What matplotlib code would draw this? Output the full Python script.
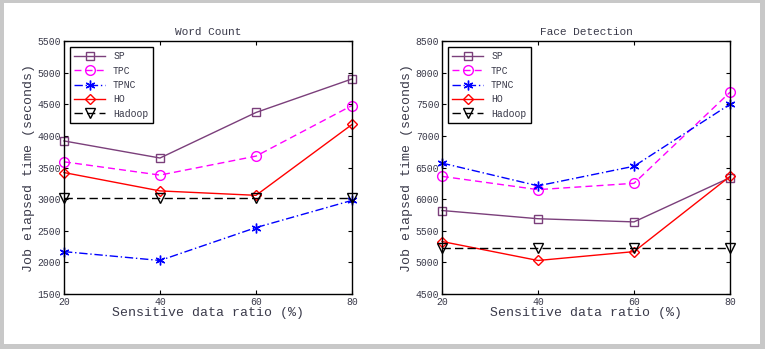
import matplotlib
matplotlib.use("Agg")
import matplotlib.pyplot as plt
from matplotlib.patches import Rectangle

plt.rcParams['font.family'] = ['Liberation Mono', 'DejaVu Sans Mono']

ratio = [20, 40, 60, 80]

wc_sp = [3920, 3650, 4370, 4900]
wc_tpc = [3590, 3380, 3680, 4480]
wc_tpnc = [2170, 2030, 2550, 2980]
wc_ho = [3420, 3130, 3060, 4180]
wc_hadoop = [3020, 3020, 3020, 3020]

fd_sp = [5820, 5690, 5640, 6340]
fd_tpc = [6360, 6150, 6250, 7690]
fd_tpnc = [6570, 6210, 6520, 7500]
fd_ho = [5330, 5030, 5170, 6360]
fd_hadoop = [5220, 5220, 5220, 5220]

labels = ['SP', 'TPC', 'TPNC', 'HO', 'Hadoop']
styles = [
    dict(color='#7b3f7b', ls='-', marker='s'),
    dict(color='#ff00ff', ls=(0, (5, 3)), marker='o'),
    dict(color='#0000ff', ls=(0, (6, 2, 1, 2)), marker=(6, 2, 0)),
    dict(color='#ff0000', ls='-', marker='D'),
    dict(color='#000000', ls=(0, (6, 3)), marker='v'),
]
msizes = [5.5, 7, 7, 5.5, 7]

txt = '#3a3a4a'
W, H = 765, 349

fig = plt.figure(figsize=(7.65, 3.49), dpi=100)
# grey frame around the figure (uneven widths like the source image)
grey = '#c8c8c8'
for x0, y0, w, h in [(0, 0, 4, H), (760, 0, 5, H), (0, 0, W, 5), (0, H - 3, W, 3)]:
    fig.patches.append(Rectangle((x0 / W, y0 / H), w / W, h / H, transform=fig.transFigure,
                                 facecolor=grey, edgecolor='none', zorder=-1))


def panel(rect, title, series, ylim):
    ax = fig.add_axes(rect)
    for ys, lab, st, ms in zip(series, labels, styles, msizes):
        ax.plot(ratio, ys, label=lab, color=st['color'], linestyle=st['ls'],
                marker=st['marker'], markersize=ms, markerfacecolor='none',
                markeredgecolor=st['color'], linewidth=1.0, markeredgewidth=1.0,
                clip_on=False)
    ax.set_xlim(20, 80)
    ax.set_ylim(*ylim)
    ax.set_xticks(ratio)
    ax.set_yticks(range(ylim[0], ylim[1] + 1, 500))
    ax.tick_params(direction='in', top=True, right=True, length=3,
                   labelsize=7, colors='black', labelcolor=txt, pad=2)
    for s in ax.spines.values():
        s.set_linewidth(1.0)
    ax.set_title(title, fontsize=8, color=txt, pad=4)
    ax.set_xlabel('Sensitive data ratio (%)', fontsize=9.5, color=txt, labelpad=0)
    ax.set_ylabel('Job elapsed time (seconds)', fontsize=9.5, color=txt, labelpad=2)
    leg = ax.legend(loc='upper left', fontsize=7, fancybox=False, framealpha=1,
                    edgecolor='black', handlelength=3.2, borderpad=0.45,
                    labelspacing=0.45, borderaxespad=0.6)
    leg.get_frame().set_linewidth(1.0)
    for t in leg.get_texts():
        t.set_color(txt)
    return ax


panel([64 / W, 1 - 294 / H, (352 - 64) / W, (294 - 41) / H], 'Word Count',
      [wc_sp, wc_tpc, wc_tpnc, wc_ho, wc_hadoop], (1500, 5500))
panel([442 / W, 1 - 294 / H, (730 - 442) / W, (294 - 41) / H], 'Face Detection',
      [fd_sp, fd_tpc, fd_tpnc, fd_ho, fd_hadoop], (4500, 8500))

fig.savefig('out.png', dpi=100)
